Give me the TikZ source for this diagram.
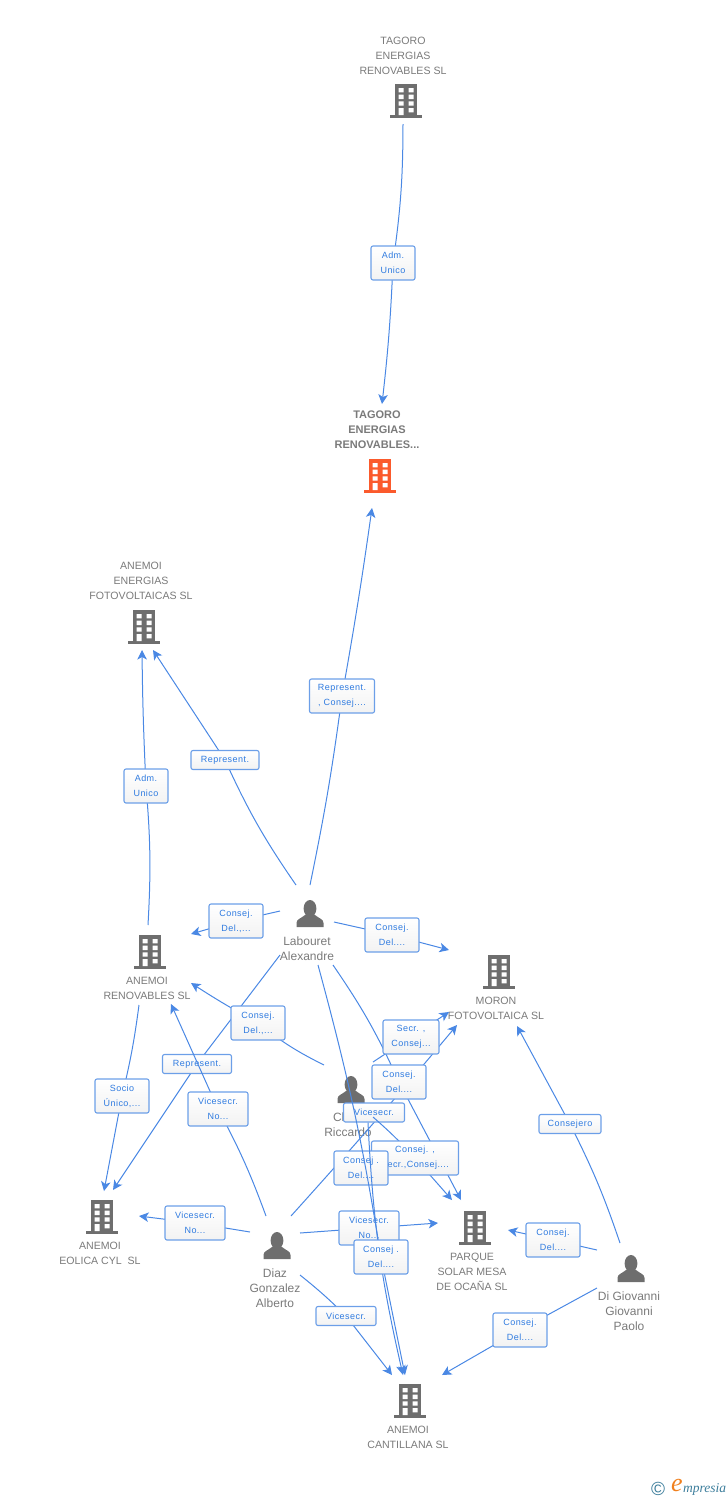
\documentclass[tikz,border=0pt]{standalone}
\usepackage{fontspec}
\setmainfont{Liberation Sans}
\newfontfamily\labfont[LetterSpace=5]{Liberation Sans}
\newfontfamily\logoserif{Liberation Serif}
\usetikzlibrary{arrows.meta}
\definecolor{edgeblue}{HTML}{4A88E4}
\definecolor{boxblue}{HTML}{6C9FE8}
\definecolor{textblue}{HTML}{2F7BE0}
\definecolor{txtgray}{HTML}{7A7A7A}
\definecolor{icongray}{HTML}{6E6E6E}
\definecolor{iconorange}{HTML}{FB5A2C}
\definecolor{logoteal}{HTML}{3C7D9B}
\definecolor{logoorange}{HTML}{F0801E}
\tikzset{
  x=1pt,y=-1pt,
  edge/.style={draw=edgeblue,line width=1pt},
  arr/.style={edge,-{Stealth[length=9.5pt,width=9.5pt,inset=2.5pt]}},
  lab/.style={draw=boxblue,line width=1.1pt,rounded corners=2pt,top color=white,bottom color=white!95!black,
    text=textblue,font=\labfont\fontsize{9}{15}\selectfont,align=center,inner sep=0pt,minimum height=34pt},
  lone/.style={lab,minimum height=19pt},
  nm/.style={text=txtgray,font=\fontsize{10.6}{15}\selectfont,align=center,inner sep=0pt},
  pn/.style={nm,font=\fontsize{12}{15}\selectfont},
  building/.pic={
    \fill[pic actions] (-11,0) rectangle (11,31);
    \fill[pic actions] (-16,31) rectangle (16,34);
    \fill[white] (-7.3,4) rectangle (-2.5,8.3) (2.7,4) rectangle (7.5,8.3)
      (-7.3,10.7) rectangle (-2.5,15) (2.7,10.7) rectangle (7.5,15)
      (-7.3,17.3) rectangle (-2.5,21.7) (2.7,17.3) rectangle (7.5,21.7)
      (-7.3,24) rectangle (-2.5,31) (2.7,24) rectangle (7.5,28.3);
  },
  person/.pic={
    \fill[pic actions] (0,8.5) ellipse [x radius=6.4,y radius=8.5];
    \fill[pic actions] (-13.5,27) -- (-13.5,23) .. controls (-13.5,19) and (-9,18.5) .. (-5,15) -- (5,15)
      .. controls (9,18.5) and (13.5,19) .. (13.5,23) -- (13.5,27) -- cycle;
  }
}
\begin{document}
\begin{tikzpicture}
\useasboundingbox (0,0) rectangle (728,1500);
% icons
\pic[fill=icongray] at (406,84) {building};
\pic[fill=iconorange] at (380,459) {building};
\pic[fill=icongray] at (144,610) {building};
\pic[fill=icongray] at (150,935) {building};
\pic[fill=icongray] at (499,955) {building};
\pic[fill=icongray] at (102,1200) {building};
\pic[fill=icongray] at (475,1211) {building};
\pic[fill=icongray] at (410,1384) {building};
\pic[fill=icongray] at (310,900) {person};
\pic[fill=icongray] at (351,1076) {person};
\pic[fill=icongray] at (277,1232) {person};
\pic[fill=icongray] at (631,1255) {person};
% names
\node[nm] (tagoro) at (403,56) {TAGORO\\ENERGIAS\\RENOVABLES SL};
\node[nm,font=\bfseries\fontsize{11}{15}\selectfont] (main) at (377,430) {TAGORO\\ENERGIAS\\RENOVABLES...};
\node[nm] (energias) at (141,581) {ANEMOI\\ENERGIAS\\FOTOVOLTAICAS SL};
\node[nm] (renov) at (147,988.5) {ANEMOI\\RENOVABLES SL};
\node[nm] (moron) at (496,1008.5) {MORON\\FOTOVOLTAICA SL};
\node[nm] (eolica) at (100,1253.5) {ANEMOI\\EOLICA CYL\ \ SL};
\node[nm] (parque) at (472,1272) {PARQUE\\SOLAR MESA\\DE OCAÑA SL};
\node[nm] (cantillana) at (408,1437.5) {ANEMOI\\CANTILLANA SL};
\node[pn] (labouret) at (307,948.5) {Labouret\\Alexandre};
\node[pn] (riccardo) at (348,1124.5) {\hbox to 30pt{Cl\hfill}\\Riccardo};
\node[pn] (diaz) at (275,1288) {Diaz\\Gonzalez\\Alberto};
\node[pn] (digio) at (629,1311) {Di Giovanni\\Giovanni\\Paolo};
% edge 1
\coordinate (s1) at (403,124); \coordinate (l1) at (393,263); \coordinate (e1) at (382,404);
\draw[edge] (s1) to[bend left=4] (l1);
\draw[arr] (l1) to[bend left=2] (e1);
\node[lab,minimum width=44pt] (n1) at (l1) {Adm.\\Unico};
% edge 2
\coordinate (s2) at (310,885); \coordinate (l2) at (342,696); \coordinate (e2) at (372,508);
\draw[edge] (s2) to[bend right=2] (l2);
\draw[arr] (l2) to[bend right=1] (e2);
\node[lab,minimum width=65pt] (n2) at (l2) {Represent.\\, Consej....};
% edge 3
\coordinate (s3) at (296,885); \coordinate (l3) at (225,760); \coordinate (e3) at (153,650);
\draw[edge] (s3) to[bend left=5] (l3);
\draw[arr] (l3) to (e3);
\node[lone,minimum width=68pt] (n3) at (l3) {Represent.};
% edge 4
\coordinate (s4) at (148,925); \coordinate (l4) at (146,786); \coordinate (e4) at (142,650);
\draw[edge] (s4) to[bend right=4] (l4);
\draw[arr] (l4) to[bend left=1] (e4);
\node[lab,minimum width=44pt] (n4) at (l4) {Adm.\\Unico};
% edge 5
\coordinate (s5) at (280,911); \coordinate (l5) at (236,921); \coordinate (e5) at (191,934);
\draw[edge] (s5) -- (l5);
\draw[arr] (l5) -- (e5);
\node[lab,minimum width=54pt] (n5) at (l5) {Consej.\\Del.,...};
% edge 6
\coordinate (s6) at (334,922); \coordinate (l6) at (392,935); \coordinate (e6) at (449,950);
\draw[edge] (s6) -- (l6);
\draw[arr] (l6) -- (e6);
\node[lab,minimum width=54pt] (n6) at (l6) {Consej.\\Del....};
% edge 7 Labouret - Eolica
\coordinate (s7) at (280,955); \coordinate (l7) at (197,1064); \coordinate (e7) at (113,1190);
\draw[edge] (s7) -- (l7);
\draw[arr] (l7) -- (e7);
\node[lone,minimum width=69pt] (n7) at (l7) {Represent.};
% edge 8 Riccardo - Renovables
\coordinate (s8) at (324,1065); \coordinate (l8) at (258,1023); \coordinate (e8) at (191,983);
\draw[edge] (s8) to[bend left=6] (l8);
\draw[arr] (l8) to[bend left=2] (e8);
\node[lab,minimum width=54pt] (n8) at (l8) {Consej.\\Del.,...};
% edge 9 Renovables - Eolica
\coordinate (s9) at (139,1005); \coordinate (l9) at (122,1096); \coordinate (e9) at (104,1191);
\draw[edge] (s9) to[bend left=3] (l9);
\draw[arr] (l9) -- (e9);
\node[lab,minimum width=54pt] (n9) at (l9) {Socio\\Único,...};
% edge 10 Diaz - Renovables
\coordinate (s10) at (266,1216); \coordinate (l10) at (218,1109); \coordinate (e10) at (171,1004);
\draw[edge] (s10) to[bend right=4] (l10);
\draw[arr] (l10) -- (e10);
\node[lab,minimum width=60pt] (n10) at (l10) {Vicesecr.\\No...};
% edge 11 Diaz - Eolica
\coordinate (s11) at (250,1232); \coordinate (l11) at (195,1223); \coordinate (e11) at (139,1216);
\draw[edge] (s11) -- (l11);
\draw[arr] (l11) -- (e11);
\node[lab,minimum width=60pt] (n11) at (l11) {Vicesecr.\\No...};
% edge 15 Diaz - Moron (line only, label later)
\coordinate (s15) at (291,1216); \coordinate (l15) at (361,1168); \coordinate (e15) at (457,1025);
\draw[arr] (s15) to[bend right=1] (e15);
% edge 12 Labouret - Parque
\coordinate (s12) at (333,965); \coordinate (l12) at (399,1082); \coordinate (e12) at (461,1200);
\draw[edge] (s12) to[bend left=5] (l12);
\draw[arr] (l12) -- (e12);
\node[lab,minimum width=54pt] (n12) at (l12) {Consej.\\Del....};
% edge 13 Riccardo - Moron
\coordinate (s13) at (373,1062); \coordinate (l13) at (411,1037); \coordinate (e13) at (449,1012);
\draw[edge] (s13) -- (l13);
\draw[arr] (l13) -- (e13);
\node[lab,minimum width=56pt] (n13) at (l13) {Secr. ,\\Consej...};
% Riccardo Vicesecr label
\coordinate (l21) at (374,1112.5); \coordinate (e21) at (403,1375);
\node[lone,minimum width=61pt] (n21) at (l21) {Vicesecr.};
% edge 14 Riccardo - Parque
\coordinate (s14) at (373,1117); \coordinate (l14) at (415,1158); \coordinate (e14) at (452,1200);
\draw[edge] (s14) to[bend left=3] (l14);
\draw[arr] (l14) -- (e14);
\node[lab,minimum width=87pt] (n14) at (l14) {Consej. ,\\Secr.,Consej....};
\node[lab,minimum width=54pt] (n15) at (l15) {Consej .\\Del....};
% edge 16 Diaz - Parque
\coordinate (s16) at (300,1233); \coordinate (l16) at (369,1228); \coordinate (e16) at (438,1223);
\draw[edge] (s16) -- (l16);
\draw[arr] (l16) -- (e16);
\node[lab,minimum width=60pt] (n16) at (l16) {Vicesecr.\\No...};
% edge 17 Diaz - Cantillana
\coordinate (s17) at (300,1275); \coordinate (l17) at (346,1316); \coordinate (e17) at (392,1375);
\draw[edge] (s17) to[bend left=3] (l17);
\draw[arr] (l17) -- (e17);
\node[lone,minimum width=60pt] (n17) at (l17) {Vicesecr.};
% edge 18 Di Giovanni - Moron
\coordinate (s18) at (620,1243); \coordinate (l18) at (570,1124); \coordinate (e18) at (517,1026);
\draw[edge] (s18) to[bend right=4] (l18);
\draw[arr] (l18) -- (e18);
\node[lone,minimum width=62pt] (n18) at (l18) {Consejero};
% edge 19 Di Giovanni - Parque
\coordinate (s19) at (597,1250); \coordinate (l19) at (553,1240); \coordinate (e19) at (508,1230);
\draw[edge] (s19) -- (l19);
\draw[arr] (l19) -- (e19);
\node[lab,minimum width=54pt] (n19) at (l19) {Consej.\\Del....};
% edge 20 Di Giovanni - Cantillana
\coordinate (s20) at (597,1288); \coordinate (l20) at (520,1330); \coordinate (e20) at (442,1375);
\draw[edge] (s20) -- (l20);
\draw[arr] (l20) -- (e20);
\node[lab,minimum width=54pt] (n20) at (l20) {Consej.\\Del....};
% edges to Cantillana
\draw[arr] (n21.south -| 368,0) to[bend right=5] (e21);
\coordinate (s22) at (318,965); \coordinate (l22) at (381,1257); \coordinate (e22) at (405,1375);
\draw[edge] (s22) to[bend left=3] (l22);
\draw[arr] (l22) -- (e22);
\node[lab,minimum width=54pt] (n22) at (l22) {Consej .\\Del....};
% logo
\node[inner sep=0pt,text=logoteal,font=\fontsize{19}{19}\selectfont] (copyr) at (658,1489) {©};
\node[inner sep=0pt,text=logoorange,font=\logoserif\itshape\fontsize{26}{26}\selectfont] (logoe) at (677,1485) {e};
\node[inner sep=0pt,text=logoteal,font=\logoserif\itshape\fontsize{13.5}{13.5}\selectfont,anchor=west] (logot) at (683,1489) {mpresia};
\end{tikzpicture}
\end{document}
